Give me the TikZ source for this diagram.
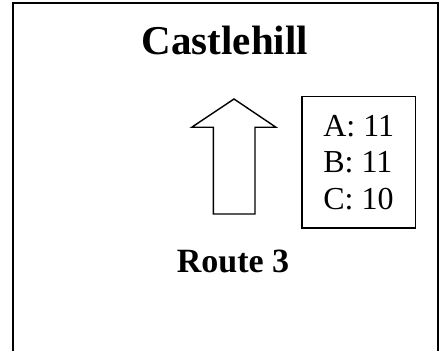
\documentclass[tikz,border=0pt]{standalone}
\usepackage{fontspec}
\setmainfont{Liberation Serif}
\usetikzlibrary{positioning}

\begin{document}
\begin{tikzpicture}[x=0.5pt, y=-0.5pt,
  frame/.style={line width=1pt},
  arrowshape/.style={line width=0.7pt, line join=miter},
  countbox/.style={draw, line width=0.8pt, minimum width=56.7pt, minimum height=65.8pt, align=left, inner sep=0pt, font=\fontsize{16}{18.3}\selectfont}]
  \useasboundingbox (0,0) rectangle (440,351);

  % Sign frame (open at the bottom)
  \draw[frame] (13,352) -- (13,3.5) -- (438,3.5) -- (438,352);

  % Place name
  \node[anchor=base, font=\fontsize{20.5}{24}\selectfont\bfseries] (title) at (225,55) {Castlehill};

  % Direction arrow
  \draw[arrowshape] (234,99) -- (276,127.3) -- (255,127.3) -- (255,214) -- (213.3,214) -- (213.3,127.3) -- (191.7,127.3) -- cycle;

  % Counts
  \node[countbox] (counts) at (358.7,162.5) {A: 11\\B: 11\\C: 10};

  % Route label
  \node[anchor=base, font=\fontsize{17}{20}\selectfont\bfseries] (route) at (233,273) {Route 3};
\end{tikzpicture}
\end{document}
